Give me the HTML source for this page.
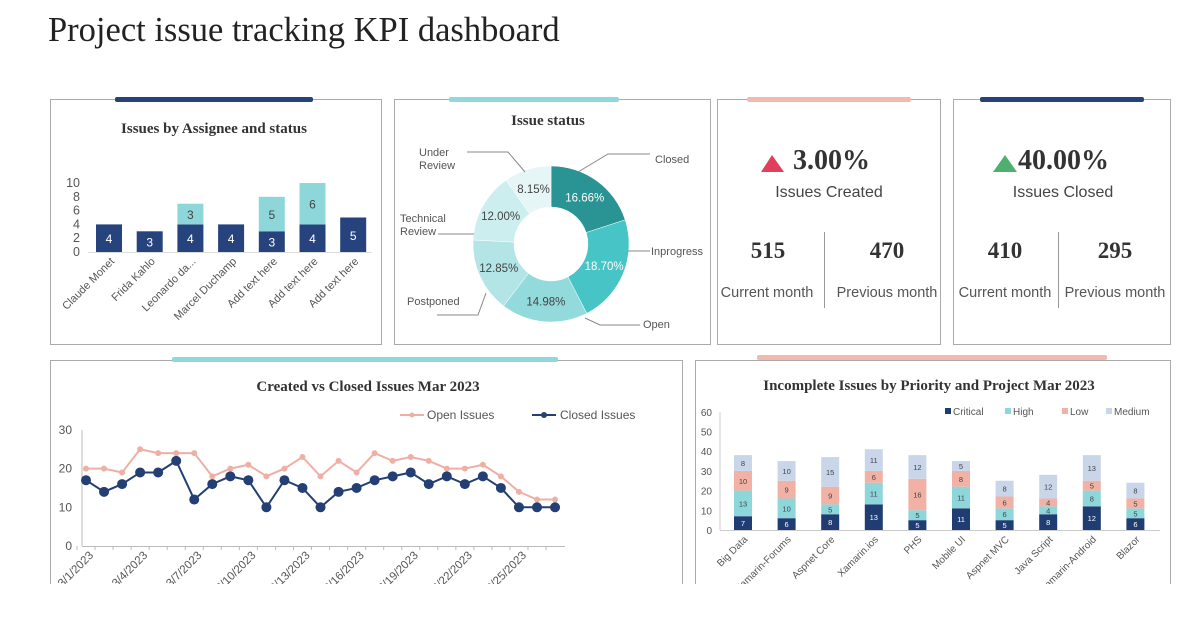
<!DOCTYPE html>
<html><head><meta charset="utf-8">
<style>
html,body{margin:0;padding:0;background:#fff;}
svg{display:block;}
.serif{font-family:"Liberation Serif",serif;}
.sans{font-family:"Liberation Sans",sans-serif;}
</style></head>
<body>
<svg id="s" width="1200" height="627" viewBox="0 0 1200 627" xmlns="http://www.w3.org/2000/svg">
<rect x="0" y="0" width="1200" height="627" fill="#fff"/>
<text class="serif" x="48" y="41" font-size="34.5" fill="#222">Project issue tracking KPI dashboard</text>

<!-- panels -->
<g fill="#fff" stroke="#aaa" stroke-width="1">
<rect x="50.5" y="99.5" width="331" height="245"/>
<rect x="394.5" y="99.5" width="316" height="245"/>
<rect x="717.5" y="99.5" width="223" height="245"/>
<rect x="953.5" y="99.5" width="217" height="245"/>
<rect x="50.5" y="360.5" width="632" height="240"/>
<rect x="695.5" y="360.5" width="475" height="240"/>
</g>
<g>
<rect x="115" y="97" width="198" height="5" rx="2" fill="#27427a"/>
<rect x="449" y="97" width="170" height="5" rx="2" fill="#8fd8dc"/>
<rect x="747" y="97" width="164" height="5" rx="2" fill="#f2b9ad"/>
<rect x="980" y="97" width="164" height="5" rx="2" fill="#27427a"/>
<rect x="172" y="357" width="386" height="5" rx="2" fill="#8fd8dc"/>
<rect x="757" y="355" width="350" height="5" rx="2" fill="#f2b9ad"/>
</g>

<!-- titles -->
<text class="serif" x="214" y="133" font-size="15" font-weight="bold" text-anchor="middle" fill="#333">Issues by Assignee and status</text>
<text class="serif" x="548" y="125" font-size="15" font-weight="bold" text-anchor="middle" fill="#333">Issue status</text>
<text class="serif" x="368" y="391" font-size="15" font-weight="bold" text-anchor="middle" fill="#333">Created vs Closed Issues Mar 2023</text>
<text class="serif" x="929" y="390" font-size="15" font-weight="bold" text-anchor="middle" fill="#333">Incomplete Issues by Priority and Project Mar 2023</text>

<!-- KPIs -->
<polygon points="761,172 772,155 784,172" fill="#e0405a"/>
<text class="serif" x="793" y="169" font-size="28" font-weight="bold" fill="#333">3.00%</text>
<text class="sans" x="829" y="197" font-size="16" text-anchor="middle" fill="#444">Issues Created</text>
<text class="serif" x="768" y="258" font-size="23" font-weight="bold" text-anchor="middle" fill="#333">515</text>
<text class="serif" x="887" y="258" font-size="23" font-weight="bold" text-anchor="middle" fill="#333">470</text>
<text class="sans" x="767" y="297" font-size="14.5" text-anchor="middle" fill="#555">Current month</text>
<text class="sans" x="887" y="297" font-size="14.5" text-anchor="middle" fill="#555">Previous month</text>
<line x1="824.5" y1="232" x2="824.5" y2="308" stroke="#999"/>

<polygon points="993,172 1005,155 1017,172" fill="#4db06e"/>
<text class="serif" x="1018" y="169" font-size="28" font-weight="bold" fill="#333">40.00%</text>
<text class="sans" x="1063" y="197" font-size="16" text-anchor="middle" fill="#444">Issues Closed</text>
<text class="serif" x="1005" y="258" font-size="23" font-weight="bold" text-anchor="middle" fill="#333">410</text>
<text class="serif" x="1115" y="258" font-size="23" font-weight="bold" text-anchor="middle" fill="#333">295</text>
<text class="sans" x="1005" y="297" font-size="14.5" text-anchor="middle" fill="#555">Current month</text>
<text class="sans" x="1115" y="297" font-size="14.5" text-anchor="middle" fill="#555">Previous month</text>
<line x1="1058.5" y1="232" x2="1058.5" y2="308" stroke="#999"/>

<g id="g1"></g><g id="g2"></g><g id="g3"></g><g id="g4"></g>
<rect x="0" y="584" width="1200" height="43" fill="#fff"/>
</svg>
<script>
// ---- assignee chart data
const assignees = ["Claude Monet","Frida Kahlo","Leonardo da...","Marcel Duchamp","Add text here","Add text here","Add text here"];
const assigneeA = [4,3,4,4,3,4,5];
const assigneeB = [0,0,3,0,5,6,0];
const assigneeTicks = [0,2,4,6,8,10];
// ---- donut data
const statusNames = ["Closed","Inprogress","Open","Postponed","Technical Review","Under Review"];
const statusValues = [16.66,18.70,14.98,12.85,12.00,8.15];
// ---- line chart data
const dayLabels = ["3/1/2023","3/2/2023","3/3/2023","3/4/2023","3/5/2023","3/6/2023","3/7/2023","3/8/2023","3/9/2023","3/10/2023","3/11/2023","3/12/2023","3/13/2023","3/14/2023","3/15/2023","3/16/2023","3/17/2023","3/18/2023","3/19/2023","3/20/2023","3/21/2023","3/22/2023","3/23/2023","3/24/2023","3/25/2023","3/26/2023","3/27/2023"];
const openIssues = [20,20,19,25,24,24,24,18,20,21,18,20,23,18,22,19,24,22,23,22,20,20,21,18,14,12,12];
const closedIssues = [17,14,16,19,19,22,12,16,18,17,10,17,15,10,14,15,17,18,19,16,18,16,18,15,10,10,10];
const lineTicks = [0,10,20,30];
// ---- priority chart data
const projects = ["Big Data","Xamarin-Forums","Aspnet Core","Xamarin.ios","PHS","Mobile UI","Aspnet MVC","Java Script","Xamarin-Android","Blazor"];
const critical = [7,6,8,13,5,11,5,8,12,6];
const high = [13,10,5,11,5,11,6,4,8,5];
const low = [10,9,9,6,16,8,6,4,5,5];
const medium = [8,10,15,11,12,5,8,12,13,8];
const priorityTicks = [0,10,20,30,40,50,60];

const NS="http://www.w3.org/2000/svg";
function mk(p,tag,attrs,txt){const e=document.createElementNS(NS,tag);for(const k in attrs)e.setAttribute(k,attrs[k]);if(txt!==undefined)e.textContent=txt;p.appendChild(e);return e;}

// ===== chart 1
(function(){
const g=document.getElementById('g1');
const y=v=>252-v*6.9, x=i=>109+i*40.7;
mk(g,'line',{x1:88,y1:252.5,x2:372,y2:252.5,stroke:'#ddd'});
assigneeTicks.forEach(t=>{const e=mk(g,'text',{x:80,y:y(t)+4,'font-size':12.5,'text-anchor':'end',fill:'#555','class':'sans'},t);

});
assignees.forEach((n,i)=>{
 const a=mk(g,'rect',{x:x(i)-13,y:y(assigneeA[i]),width:26,height:assigneeA[i]*6.9,fill:'#26437d'});
 
 
 mk(g,'text',{x:x(i),y:y(assigneeA[i]/2)+5,'font-size':12,'text-anchor':'middle',fill:'#fff','class':'sans'},assigneeA[i]);
 if(assigneeB[i]>0){
  const b=mk(g,'rect',{x:x(i)-13,y:y(assigneeA[i]+assigneeB[i]),width:26,height:assigneeB[i]*6.9,fill:'#8dd7db'});
  
  
  mk(g,'text',{x:x(i),y:y(assigneeA[i]+assigneeB[i]/2)+5,'font-size':12,'text-anchor':'middle',fill:'#444','class':'sans'},assigneeB[i]);
 }
 const l=mk(g,'text',{x:x(i)+6,y:262,'font-size':11,'text-anchor':'end',fill:'#555','class':'sans',transform:`rotate(-45 ${x(i)+6} 262)`},n);
 
 
});
})();

// ===== donut
(function(){
const g=document.getElementById('g2');
const cx=551,cy=244,R=78,r=37;
const cols=['#2a9393','#46c4c6','#92dadc','#b3e4e6','#cdeeee','#e6f6f6'];
const tot=statusValues.reduce((a,b)=>a+b,0);
let a0=-Math.PI/2;
const P=(a,rr)=>[cx+rr*Math.cos(a),cy+rr*Math.sin(a)];
statusValues.forEach((v,i)=>{
 const a1=a0+v/tot*2*Math.PI;
 const [x0,y0]=P(a0,R),[x1,y1]=P(a1,R),[x2,y2]=P(a1,r),[x3,y3]=P(a0,r);
 const lg=(a1-a0)>Math.PI?1:0;
 const s=mk(g,'path',{d:`M${x0},${y0}A${R},${R} 0 ${lg} 1 ${x1},${y1}L${x2},${y2}A${r},${r} 0 ${lg} 0 ${x3},${y3}Z`,fill:cols[i],stroke:'#fff','stroke-width':0.5});
 
 
 const am=(a0+a1)/2,[lx,ly]=P(am,(R+r)/2);
 mk(g,'text',{x:lx,y:ly+4,'font-size':11.5,'text-anchor':'middle',fill:i<2?'#fff':'#444','class':'sans'},v.toFixed(2)+'%');
 a0=a1;
});
const labs=[["Closed",655,163,[[578,172],[608,154],[650,154]]],["Inprogress",651,255,[[628,251],[650,251]]],["Open",643,328,[[585,318],[600,325],[640,325]]],["Postponed",407,305,[[486,293],[478,315],[437,315]]],["Technical\nReview",400,222,[[474,234],[438,234]]],["Under\nReview",419,156,[[525,172],[508,152],[467,152]]]];
labs.forEach(l=>{
 mk(g,'polyline',{points:l[3].map(p=>p.join(',')).join(' '),fill:'none',stroke:'#888'});
 l[0].split('\n').forEach((t,k)=>{const e=mk(g,'text',{x:l[1],y:l[2]+k*13,'font-size':11,fill:'#555','class':'sans'},t);
 
 });
});
})();

// ===== line chart
(function(){
const g=document.getElementById('g3');
const y=v=>546-v*3.87, x=i=>86+i*18.04;
mk(g,'line',{x1:82,y1:430,x2:82,y2:546,stroke:'#bbb'});
mk(g,'line',{x1:82,y1:546.5,x2:565,y2:546.5,stroke:'#bbb'});
lineTicks.forEach(t=>{const e=mk(g,'text',{x:72,y:y(t)+4,'font-size':12,'text-anchor':'end',fill:'#555','class':'sans'},t);
 
 });
dayLabels.forEach((d,i)=>{
 mk(g,'line',{x1:x(i)-9,y1:546,x2:x(i)-9,y2:550,stroke:'#bbb'});
 if(i%3===0){const e=mk(g,'text',{x:x(i)+8,y:556,'font-size':11.5,'text-anchor':'end',fill:'#555','class':'sans',transform:`rotate(-45 ${x(i)+8} 556)`},d);
 
 }
});
const series=[[openIssues,'#eeb0a5',3,'open-issues-line'],[closedIssues,'#233f73',5,'closed-issues-line']];
series.forEach(s=>{
 const pl=mk(g,'polyline',{points:s[0].map((v,i)=>x(i)+','+y(v)).join(' '),fill:'none',stroke:s[1],'stroke-width':2});
 
 
 s[0].forEach((v,i)=>{const c=mk(g,'circle',{cx:x(i),cy:y(v),r:s[2],fill:s[1]});
 
 });
});
mk(g,'line',{x1:400,y1:415,x2:424,y2:415,stroke:'#eeb0a5','stroke-width':2});
mk(g,'circle',{cx:412,cy:415,r:2.5,fill:'#eeb0a5'});
const l1=mk(g,'text',{x:427,y:419,'font-size':12,fill:'#555','class':'sans'},'Open Issues');


mk(g,'line',{x1:532,y1:415,x2:556,y2:415,stroke:'#233f73','stroke-width':2});
mk(g,'circle',{cx:544,cy:415,r:3,fill:'#233f73'});
const l2=mk(g,'text',{x:560,y:419,'font-size':12,fill:'#555','class':'sans'},'Closed Issues');


})();

// ===== priority chart
(function(){
const g=document.getElementById('g4');
const y=v=>530-v*1.97, x=i=>743+i*43.6;
mk(g,'line',{x1:720,y1:412,x2:720,y2:530,stroke:'#ccc'});
mk(g,'line',{x1:720,y1:530.5,x2:1160,y2:530.5,stroke:'#ccc'});
priorityTicks.forEach(t=>{const e=mk(g,'text',{x:712,y:y(t)+4,'font-size':10,'text-anchor':'end',fill:'#555','class':'sans'},t);
 
 });
const ser=[[critical,'#1f3d73','#fff','critical'],[high,'#8dd7db','#444','high'],[low,'#f2b1a5','#444','low'],[medium,'#c9d6ea','#444','medium']];
projects.forEach((p,i)=>{
 let acc=0;
 ser.forEach(s=>{
  const v=s[0][i];
  const r=mk(g,'rect',{x:x(i)-9,y:y(acc+v),width:18,height:v*1.97,fill:s[1]});
  
  
  mk(g,'text',{x:x(i),y:y(acc+v/2)+3,'font-size':7.5,'text-anchor':'middle',fill:s[2],'class':'sans'},v);
  acc+=v;
 });
 const l=mk(g,'text',{x:x(i)+5,y:540,'font-size':10,'text-anchor':'end',fill:'#555','class':'sans',transform:`rotate(-45 ${x(i)+5} 540)`},p);
 
 
});
const lx=[945,1005,1062,1106];
ser.forEach((s,k)=>{
 mk(g,'rect',{x:lx[k],y:408,width:6,height:6,fill:s[1]});
 const t=mk(g,'text',{x:lx[k]+8,y:415,'font-size':10,fill:'#555','class':'sans'},s[3][0].toUpperCase()+s[3].slice(1));
 
 
});
})();
</script>
</body></html>
